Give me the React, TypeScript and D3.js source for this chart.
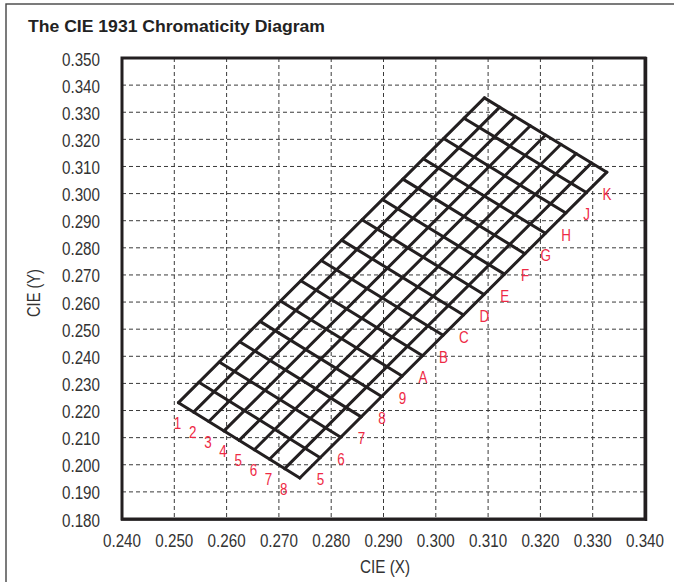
import React from 'react';
import * as d3 from 'd3';

const xTicks = [0.24, 0.25, 0.26, 0.27, 0.28, 0.29, 0.3, 0.31, 0.32, 0.33, 0.34];
const yTicks = [0.18, 0.19, 0.2, 0.21, 0.22, 0.23, 0.24, 0.25, 0.26, 0.27, 0.28, 0.29, 0.3, 0.31, 0.32, 0.33, 0.34, 0.35];

// quadrilateral corners of the bin grid (CIE x, y)
const cornerBottom: [number, number] = [0.274, 0.1951];
const cornerRight: [number, number] = [0.3327, 0.3079];
const cornerTop: [number, number] = [0.3093, 0.3353];
const cornerLeft: [number, number] = [0.2508, 0.2229];

const shortBins = ['1', '2', '3', '4', '5', '6', '7', '8'];
const longBins = ['5', '6', '7', '8', '9', 'A', 'B', 'C', 'D', 'E', 'F', 'G', 'H', 'J', 'K'];

const W = 674;
const H = 582;
const M = { left: 122, right: 645, top: 58, bottom: 519 };

const sans = '"Liberation Sans", Arial, sans-serif';
const SX = 0.84; // horizontal condensing

export default function App() {
  const x = d3.scaleLinear().domain([0.24, 0.34]).range([M.left, M.right]);
  const y = d3.scaleLinear().domain([0.18, 0.35]).range([M.bottom, M.top]);

  const P = (u: number, v: number): [number, number] => {
    const px =
      (1 - u) * (1 - v) * cornerBottom[0] + u * (1 - v) * cornerRight[0] + u * v * cornerTop[0] + (1 - u) * v * cornerLeft[0];
    const py =
      (1 - u) * (1 - v) * cornerBottom[1] + u * (1 - v) * cornerRight[1] + u * v * cornerTop[1] + (1 - u) * v * cornerLeft[1];
    return [x(px), y(py)];
  };

  const nu = longBins.length;
  const nv = shortBins.length;
  const line = d3.line<[number, number]>();
  const meshLines: string[] = [];
  for (let i = 0; i <= nu; i++) {
    meshLines.push(line([P(i / nu, 0), P(i / nu, 1)]) as string);
  }
  for (let j = 0; j <= nv; j++) {
    meshLines.push(line([P(0, j / nv), P(1, j / nv)]) as string);
  }

  const red = '#ee2a45';
  const gridColor = '#3a3a3a';
  const dark = '#231f20';
  const fmt = d3.format('.3f');

  return (
    <svg width={W} height={H} style={{ position: 'absolute', left: 0, top: 0, background: '#fff' }}>
      <rect x={6} y={4} width={W + 20} height={H + 20} fill="#fff" stroke="#444" strokeWidth={1.4} />
      <text
        x={28}
        y={32}
        fontFamily={sans}
        fontWeight="bold"
        fontSize={17}
        fill="#222"
        textLength={297}
        lengthAdjust="spacingAndGlyphs"
      >
        The CIE 1931 Chromaticity Diagram
      </text>

      {/* dashed grid */}
      {xTicks.slice(1, -1).map((t) => (
        <line key={'vx' + t} x1={x(t)} x2={x(t)} y1={M.top} y2={M.bottom} stroke={gridColor} strokeWidth={1} strokeDasharray="4,3" />
      ))}
      {yTicks.slice(1, -1).map((t) => (
        <line key={'hy' + t} x1={M.left} x2={M.right} y1={y(t)} y2={y(t)} stroke={gridColor} strokeWidth={1} strokeDasharray="4,3" />
      ))}

      {/* frame */}
      <rect x={M.left} y={M.top} width={M.right - M.left} height={M.bottom - M.top} fill="none" stroke={dark} strokeWidth={3} />
      <line x1={M.right + 1} x2={M.right + 1} y1={M.top - 1} y2={M.bottom + 2} stroke={dark} strokeWidth={2.5} />
      <line x1={M.left - 1} x2={M.right + 2} y1={M.bottom + 1} y2={M.bottom + 1} stroke={dark} strokeWidth={1.5} />

      {/* mesh */}
      {meshLines.map((d, i) => (
        <path key={'m' + i} d={d} fill="none" stroke={dark} strokeWidth={3} strokeLinecap="round" />
      ))}

      {/* bin labels */}
      {shortBins.map((b, k) => {
        const [px, py] = P(0, 1 - (k + 0.5) / nv);
        return (
          <text
            key={'s' + k}
            transform={`translate(${px - 8.5},${py + 16}) scale(${SX},1)`}
            fill={red}
            fontFamily={sans}
            fontSize={16}
            textAnchor="middle"
            dominantBaseline="central"
          >
            {b}
          </text>
        );
      })}
      {longBins.map((b, k) => {
        const [px, py] = P((k + 0.5) / nu, 0);
        return (
          <text
            key={'l' + k}
            transform={`translate(${px + 10.5},${py + 12}) scale(${SX},1)`}
            fill={red}
            fontFamily={sans}
            fontSize={16}
            textAnchor="middle"
            dominantBaseline="central"
          >
            {b}
          </text>
        );
      })}

      {/* y ticks */}
      {yTicks.map((t) => (
        <text
          key={'yt' + t}
          x={62}
          y={y(t) + 1.5}
          textAnchor="start"
          dominantBaseline="central"
          fontFamily={sans}
          fontSize={18}
          fill="#333"
          textLength={38}
          lengthAdjust="spacingAndGlyphs"
        >
          {fmt(t)}
        </text>
      ))}
      {/* x ticks */}
      {xTicks.map((t) => (
        <text
          key={'xt' + t}
          x={x(t) - 19}
          y={546.5}
          fontFamily={sans}
          fontSize={18}
          fill="#333"
          textLength={38}
          lengthAdjust="spacingAndGlyphs"
        >
          {fmt(t)}
        </text>
      ))}

      <text x={360} y={572.5} fontFamily={sans} fontSize={18} fill="#333" textLength={50} lengthAdjust="spacingAndGlyphs">
        CIE (X)
      </text>
      <text
        transform={`translate(39.5, 317) rotate(-90)`}
        fontFamily={sans}
        fontSize={18}
        fill="#333"
        textLength={48}
        lengthAdjust="spacingAndGlyphs"
      >
        CIE (Y)
      </text>
    </svg>
  );
}
